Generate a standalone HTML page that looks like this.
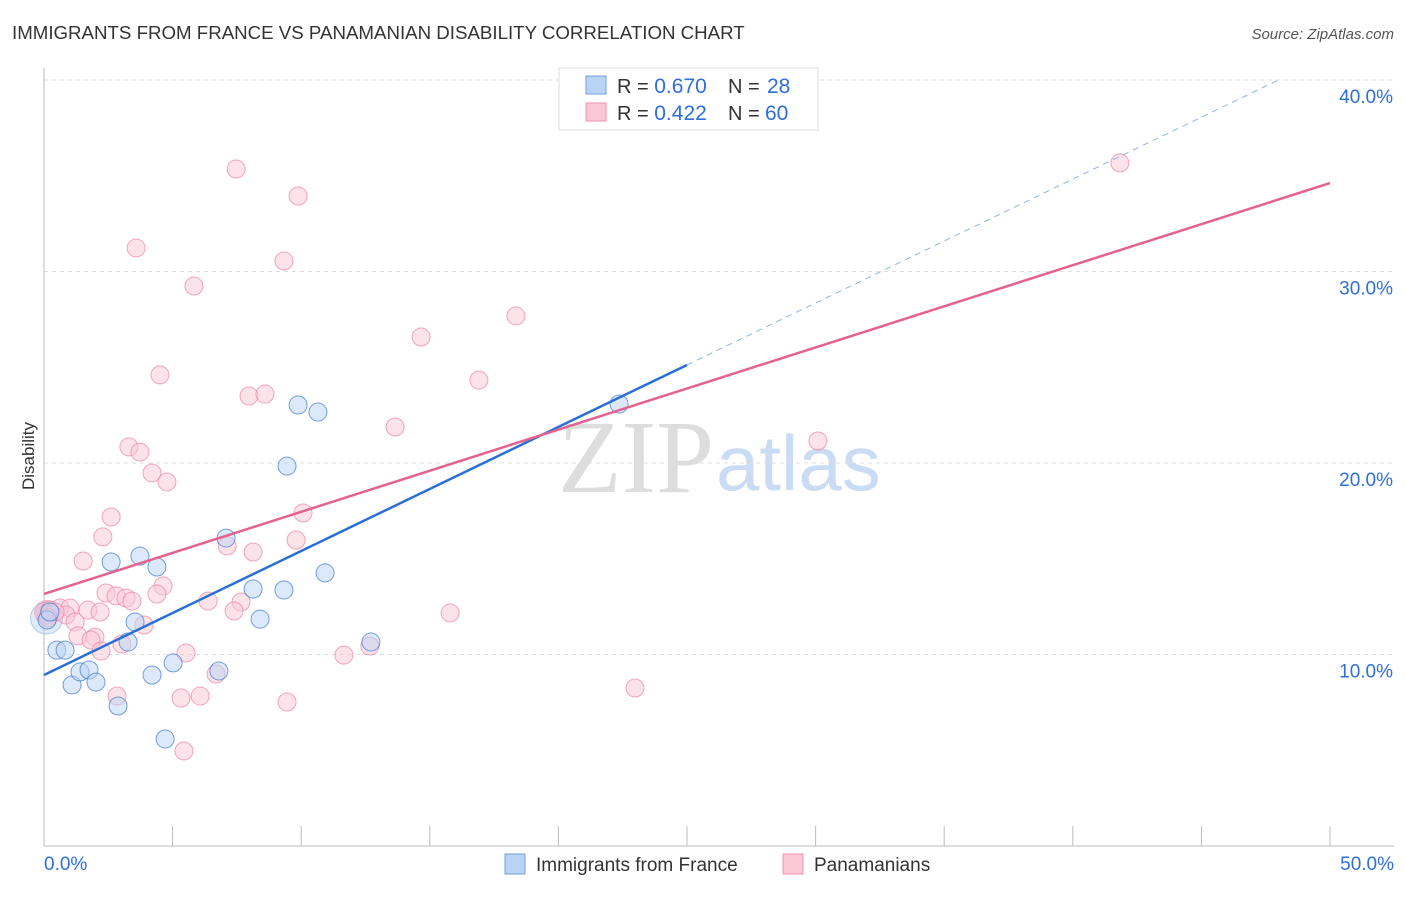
<!DOCTYPE html>
<html><head><meta charset="utf-8"><style>
body{margin:0;background:#fff;font-family:"Liberation Sans",sans-serif}
</style></head><body>
<svg id="c" width="1406" height="892" xmlns="http://www.w3.org/2000/svg" style="font-family:'Liberation Sans',sans-serif">
<text x="12" y="39" font-size="18.7" fill="#333">IMMIGRANTS FROM FRANCE VS PANAMANIAN DISABILITY CORRELATION CHART</text>
<text x="1394" y="39" font-size="15" fill="#555" font-style="italic" text-anchor="end">Source: ZipAtlas.com</text>
<text x="714" y="492" font-size="104" fill="#ddd" text-anchor="end" font-family="Liberation Serif,serif">ZIP</text>
<text x="716" y="490" font-size="78" fill="#c9dcf3">atlas</text>
<g id="grid"></g><g id="pts"></g><g id="lines"></g>
<text transform="translate(34,456) rotate(-90)" font-size="17" fill="#333" text-anchor="middle">Disability</text>
<g>
<rect x="559" y="68" width="259" height="62" fill="#fff" stroke="#ddd"/>
<rect x="586" y="76" width="20" height="18" fill="#b9d3f5" stroke="#6f9fe0"/>
<rect x="586" y="103" width="20" height="18" fill="#fac7d5" stroke="#ef92ac"/>
<text x="617" y="93" font-size="20" fill="#333">R = <tspan fill="#2e6fd8" font-size="21">0.670</tspan><tspan x="728">N = </tspan><tspan x="767" fill="#2e6fd8" font-size="21">28</tspan></text>
<text x="617" y="120" font-size="20" fill="#333">R = <tspan fill="#2e6fd8" font-size="21">0.422</tspan><tspan x="728">N = </tspan><tspan x="765" fill="#2e6fd8" font-size="21">60</tspan></text>
</g>
<g>
<rect x="505" y="854" width="20" height="20" fill="#b9d3f5" stroke="#6f9fe0"/>
<text x="536" y="871" font-size="19" fill="#333">Immigrants from France</text>
<rect x="783" y="854" width="20" height="20" fill="#fac7d5" stroke="#ef92ac"/>
<text x="814" y="871" font-size="19" fill="#333">Panamanians</text>
</g>
</svg>
<script>
const xTicks=[0,5,10,15,20,25,30,35,40,45,50];
const yTicks=[10,20,30,40];
const yTickLabels=["10.0%","20.0%","30.0%","40.0%"];
const xEndLabels=["0.0%","50.0%"];
const blueX=[0.12,0.23,0.5,0.82,1.09,1.4,1.75,2.02,2.61,2.88,3.27,3.54,3.73,4.2,4.39,4.71,5.02,6.8,7.08,8.13,8.4,9.33,9.45,9.88,10.65,10.93,12.71,22.36];
const blueY=[11.8,12.22,10.23,10.23,8.41,9.09,9.19,8.56,14.83,7.31,10.65,11.7,15.14,8.93,14.57,5.59,9.56,9.14,16.08,13.42,11.85,13.37,19.84,23.03,22.66,14.26,10.65,23.08];
const pinkX=[7.47,9.88,3.58,9.33,5.83,18.35,14.66,4.51,16.91,7.97,8.59,13.65,3.3,3.73,30.09,4.2,4.78,2.61,10.07,2.29,9.8,7.12,8.13,1.52,4.63,4.39,2.41,2.8,3.19,3.42,6.38,7.66,7.39,15.79,3.89,0.62,1.01,1.71,2.18,0.86,1.21,1.32,1.98,1.83,3.03,2.22,5.52,12.67,11.66,6.69,2.84,5.33,6.07,9.45,22.98,5.44,41.83,0.23,0.43,0.16];
const pinkY=[35.35,33.94,31.23,30.55,29.24,27.68,26.58,24.6,24.33,23.5,23.6,21.88,20.84,20.57,21.15,19.48,19.01,17.18,17.39,16.14,15.98,15.67,15.35,14.88,13.58,13.16,13.21,13.06,12.95,12.79,12.79,12.74,12.27,12.17,11.54,12.43,12.43,12.32,12.22,12.06,11.7,10.97,10.91,10.76,10.55,10.18,10.08,10.44,9.97,8.98,7.83,7.73,7.83,7.52,8.25,4.96,35.67,12.32,12.22,11.91];
const blueTrendX=[0,25,48];
const blueTrendY=[8.93,25.12,40.0];
const pinkTrendX=[0,50];
const pinkTrendY=[13.16,34.62];
const X=v=>44+v*25.72, Y=v=>846-v*19.15;
const NS="http://www.w3.org/2000/svg";
function mk(t,a,p){const e=document.createElementNS(NS,t);for(const k in a)e.setAttribute(k,a[k]);p.appendChild(e);return e;}
const grid=document.getElementById('grid');
yTicks.forEach((t,i)=>{
 const l=mk('line',{x1:44,x2:1394,y1:Y(t),y2:Y(t),stroke:'#ddd','stroke-dasharray':'4,4'},grid);
 
 
 const tx=mk('text',{x:1393,y:Y(t)+23,'font-size':19,fill:'#2e6fd8','text-anchor':'end'},grid);tx.textContent=yTickLabels[i];
 
 
});
mk('line',{x1:44,x2:44,y1:68,y2:846,stroke:'#bbb'},grid);
mk('line',{x1:44,x2:1394,y1:846,y2:846,stroke:'#bbb'},grid);
xTicks.forEach(t=>{const l=mk('line',{x1:X(t),x2:X(t),y1:826,y2:846,stroke:'#bbb'},grid);
 
 });
[[0,'start',44],[50,'end',1394]].forEach((d,i)=>{const tx=mk('text',{x:d[2],y:870,'font-size':19,fill:'#2e6fd8','text-anchor':d[1]},grid);tx.textContent=xEndLabels[i];
 
 });
const pts=document.getElementById('pts');
mk('circle',{cx:X(0.1),cy:Y(11.9),r:16,fill:'rgba(185,211,245,0.45)',stroke:'rgba(111,159,224,0.5)'},pts);
mk('circle',{cx:X(0.1),cy:Y(12.2),r:12,fill:'rgba(240,140,170,0.4)',stroke:'rgba(239,146,172,0.5)'},pts);
pinkX.forEach((x,i)=>{const c=mk('circle',{cx:X(x),cy:Y(pinkY[i]),r:9,fill:'rgba(250,199,213,0.5)',stroke:'rgba(236,130,160,0.7)'},pts);
 
 });
blueX.forEach((x,i)=>{const c=mk('circle',{cx:X(x),cy:Y(blueY[i]),r:9,fill:'rgba(185,211,245,0.5)',stroke:'rgba(60,120,210,0.7)'},pts);
 
 });
const lines=document.getElementById('lines');
const bl=mk('line',{x1:X(blueTrendX[0]),y1:Y(blueTrendY[0]),x2:X(blueTrendX[1]),y2:Y(blueTrendY[1]),stroke:'#2a6fd6','stroke-width':2.5},lines);


const bd=mk('line',{x1:X(blueTrendX[1]),y1:Y(blueTrendY[1]),x2:X(blueTrendX[2]),y2:Y(blueTrendY[2]),stroke:'#8fb3e6','stroke-width':1,'stroke-dasharray':'6,5'},lines);


const pl=mk('line',{x1:X(pinkTrendX[0]),y1:Y(pinkTrendY[0]),x2:X(pinkTrendX[1]),y2:Y(pinkTrendY[1]),stroke:'#e5628f','stroke-width':2.5},lines);


</script>
</body></html>
